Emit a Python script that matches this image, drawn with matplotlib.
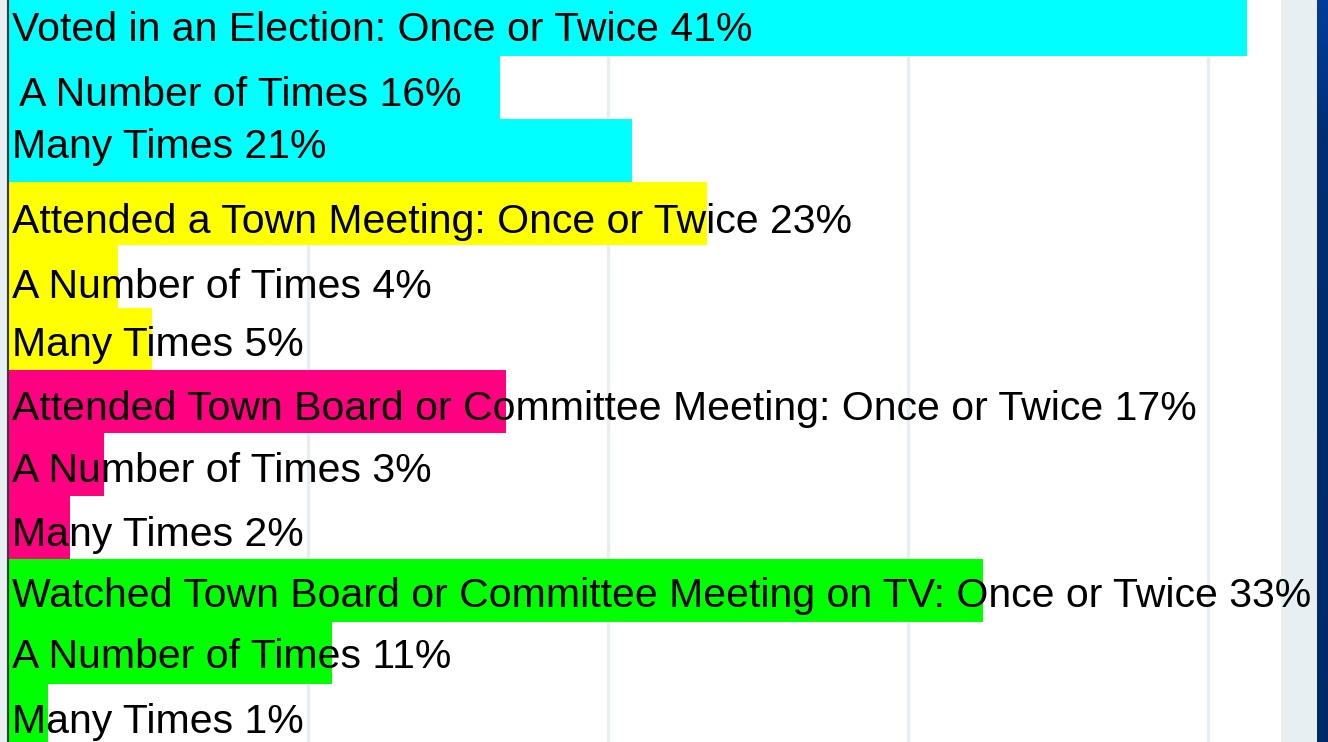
import matplotlib
matplotlib.use("Agg")
import matplotlib.pyplot as plt
import numpy as np
from matplotlib.colors import LinearSegmentedColormap

# ---- data ----
labels = [
    "Voted in an Election: Once or Twice 41%",
    " A Number of Times 16%",
    "Many Times 21%",
    "Attended a Town Meeting: Once or Twice 23%",
    "A Number of Times 4%",
    "Many Times 5%",
    "Attended Town Board or Committee Meeting: Once or Twice 17%",
    "A Number of Times 3%",
    "Many Times 2%",
    "Watched Town Board or Committee Meeting on TV: Once or Twice 33%",
    "A Number of Times 11%",
    "Many Times 1%",
]
values = [41.3, 16.4, 20.8, 23.3, 3.66, 4.82, 16.6, 3.2, 2.08, 32.5, 10.8, 1.34]
groups = ["Voted", "Voted", "Voted",
          "Town Meeting", "Town Meeting", "Town Meeting",
          "Board Meeting", "Board Meeting", "Board Meeting",
          "TV", "TV", "TV"]
group_colors = {"Voted": "#00ffff", "Town Meeting": "#ffff00",
                "Board Meeting": "#ff0080", "TV": "#00ff00"}
grid_ticks = [10, 20, 30, 40]

# ---- layout ----
W, H, DPI = 1328, 742, 100
fig = plt.figure(figsize=(W / DPI, H / DPI), dpi=DPI)
fig.patch.set_facecolor("#e8eff2")

ax_left = 7.7 / W
ax_right = 1281.3 / W
ax = fig.add_axes([ax_left, 0, ax_right - ax_left, 1])
ax.set_facecolor("white")

y = np.arange(len(values))
colors = [group_colors[g] for g in groups]
ax.barh(y, values, height=1.0, color=colors, edgecolor="none", zorder=2)

ax.set_xlim(0, (1281.3 - 7.7) / 30.0)
ax.set_ylim(11.417, -0.398)

for t in grid_ticks:
    ax.axvline(t, color="#e6eef1", lw=2.4, zorder=1)

# text nudges (points) relative to row centre
nudge = [-1.2, -3.0, 4.8, -3.5, -5.1, -1.7, -2.7, -2.3, -3.1, -1.7, -0.7, -2.3]
xnudge = [3.2, 1.5, 3.2, 3.2, 3.2, 3.2, 3.2, 3.2, 3.2, 3.2, 3.2, 3.2]
for i, (lab, v) in enumerate(zip(labels, values)):
    ax.annotate(lab, xy=(0, i), xytext=(xnudge[i], -10.3 + nudge[i]),
                textcoords="offset points", ha="left", va="baseline",
                fontsize=29.5, family="Liberation Sans", color="black",
                zorder=3, annotation_clip=False, clip_on=False)

for s in ["top", "right", "bottom"]:
    ax.spines[s].set_visible(False)
ax.spines["left"].set_color("#3a3a3a")
ax.spines["left"].set_linewidth(1.5)
ax.set_xticks([])
ax.set_yticks([])

# dark blue strip at right edge
bx = fig.add_axes([1317 / W, 0, (W - 1317) / W, 1], zorder=10)
grad = np.linspace(0, 1, 256).reshape(-1, 1)
cmap = LinearSegmentedColormap.from_list(
    "b", [(0, "#003d99"), (0.1, "#00368a"), (0.18, "#002e70"), (1, "#002a66")])
bx.imshow(grad, aspect="auto", cmap=cmap, extent=[0, 1, 1, 0])
bx.axis("off")

fig.savefig("out.png", dpi=DPI, facecolor=fig.get_facecolor())
